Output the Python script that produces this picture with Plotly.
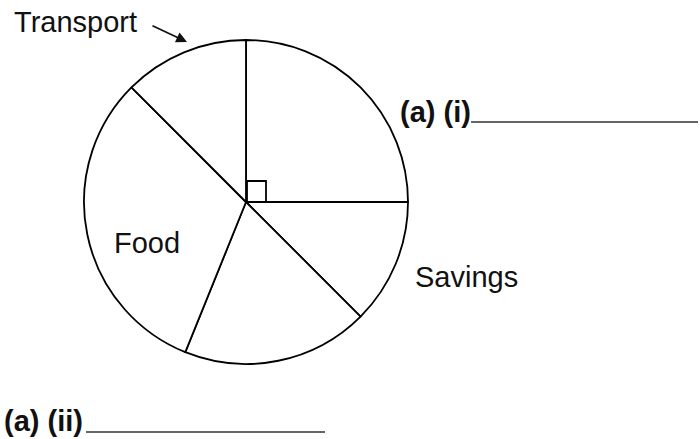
import plotly.graph_objects as go

W, H = 700, 439

# slices, clockwise from 12 o'clock (degrees)
slice_labels = ["(a) (i)", "Savings", "(a) (ii)", "Food", "Transport"]
slice_degrees = [90, 45, 67, 113, 45]


def px(x, y):
    """pixel position -> paper coords"""
    return x / W, 1 - y / H


fig = go.Figure(
    go.Pie(
        labels=slice_labels,
        values=slice_degrees,
        sort=False,
        direction="clockwise",
        rotation=0,
        textinfo="none",
        hoverinfo="label+value",
        showlegend=False,
        marker=dict(colors=["white"] * len(slice_labels),
                    line=dict(color="black", width=1.8)),
        domain=dict(x=[84 / W, 408 / W], y=[75 / H, 399 / H]),
    )
)

font = dict(family="Liberation Sans, Arial, sans-serif", size=29, color="#111")
bold = dict(family="Liberation Sans, Arial, sans-serif", size=29, color="#111")

annotations = []
for text, (x, y), f, anchor in [
    ("Transport", (12, 22), font, "left"),
    ("Food", (147, 243), font, "center"),
    ("Savings", (466, 277), font, "center"),
    ("<b>(a) (i)</b>", (398, 112), bold, "left"),
    ("<b>(a) (ii)</b>", (2, 421), bold, "left"),
]:
    ax_, ay_ = px(x, y)
    annotations.append(dict(text=text, x=ax_, y=ay_, xref="paper", yref="paper",
                            xanchor=anchor, yanchor="middle", showarrow=False, font=f))

# arrow pointing at the Transport slice
hx, hy = px(187, 42)
annotations.append(dict(text="", x=hx, y=hy, xref="paper", yref="paper",
                        showarrow=True, ax=-36, ay=-17, arrowhead=2,
                        arrowsize=1.2, arrowwidth=1.8, arrowcolor="#111"))

shapes = []
# answer lines
for x0, x1, y in [(471, 698, 122), (86, 325, 432)]:
    a0, b0 = px(x0, y)
    a1, _ = px(x1, y)
    shapes.append(dict(type="line", xref="paper", yref="paper", x0=a0, x1=a1,
                       y0=b0, y1=b0, line=dict(color="#333", width=1.5)))
# right-angle mark at the centre
sx0, sy0 = px(247, 181)
sx1, sy1 = px(266, 202)
shapes.append(dict(type="rect", xref="paper", yref="paper", x0=sx0, x1=sx1,
                   y0=sy1, y1=sy0, line=dict(color="black", width=1.8)))

fig.update_layout(
    width=W,
    height=H,
    margin=dict(l=0, r=0, t=0, b=0),
    paper_bgcolor="white",
    plot_bgcolor="white",
    annotations=annotations,
    shapes=shapes,
)

# drop the browser's default body margin so the figure sits at the page corner
fig.write_html(
    "out.html",
    config={"displayModeBar": False},
    post_script="document.body.style.margin = '0';",
)
